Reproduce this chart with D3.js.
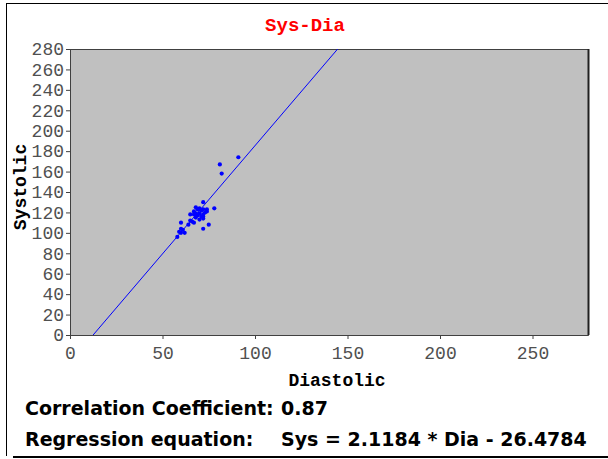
<!DOCTYPE html>
<html><head><meta charset="utf-8">
<script src="https://cdn.jsdelivr.net/npm/d3@7"></script>
<style>html,body{margin:0;padding:0;background:#fff;}</style>
</head><body>
<svg id="c" width="608" height="459"></svg>
<script>
const diastolic = [91,81,82,72,78,69,74,65,67,72,60,65,66,67,64,75,72,60,61,59,62,60,58,
  68,70,72,73,67,71,68,70,72,69,71,68,72,70,74];
const systolic  = [174,167,158,130,124,123,121,118,118,116,110,112,111,110,108,108,104,104,103,101,100,100,96,
  125,124,123,120,121,122,119,119,118,117,116,115,114,113,123];
const xTicks = [0,50,100,150,200,250];
const yTicks = [0,20,40,60,80,100,120,140,160,180,200,220,240,260,280];
const slope = 2.1184, intercept = -26.4784;
const titleText = "Sys-Dia", xTitle = "Diastolic", yTitle = "Systolic";
const corrLabel = "Correlation Coefficient:", corrValue = "0.87";
const regLabel = "Regression equation:", regValue = "Sys = 2.1184 * Dia - 26.4784";

const svg = d3.select("#c");
const L = 70, R = 588, T = 49, B = 335;
const x = d3.scaleLinear().domain([0,280]).range([L,R]);
const y = d3.scaleLinear().domain([0,280]).range([B,T]);

// outer frame
svg.append("line").attr("x1",6.5).attr("x2",6.5).attr("y1",3).attr("y2",456).attr("stroke","#000").attr("stroke-width",1);
svg.append("line").attr("x1",6).attr("x2",608).attr("y1",3.5).attr("y2",3.5).attr("stroke","#000").attr("stroke-width",1);
svg.append("line").attr("x1",13).attr("x2",608).attr("y1",457).attr("y2",457).attr("stroke","#000").attr("stroke-width",2);

// plot area
svg.append("rect").attr("x",L).attr("y",T).attr("width",R-L).attr("height",B-T).attr("fill","#c0c0c0");
svg.append("line").attr("x1",L).attr("x2",R).attr("y1",T+0.5).attr("y2",T+0.5).attr("stroke","#404040");
svg.append("line").attr("x1",R+0.5).attr("x2",R+0.5).attr("y1",T).attr("y2",B).attr("stroke","#202020").attr("stroke-width",2);
svg.append("line").attr("x1",L).attr("x2",R+1).attr("y1",B+0.5).attr("y2",B+0.5).attr("stroke","#808080");

// clip
svg.append("clipPath").attr("id","pc").append("rect").attr("x",L).attr("y",T).attr("width",R-L).attr("height",B-T);

// regression line
const xs = [-intercept/slope, (280-intercept)/slope];
svg.append("line").attr("clip-path","url(#pc)")
  .attr("x1",x(xs[0])).attr("y1",y(slope*xs[0]+intercept))
  .attr("x2",x(xs[1])).attr("y2",y(slope*xs[1]+intercept))
  .attr("stroke","#0000ff").attr("stroke-width",1);

// points
svg.append("g").selectAll("circle").data(diastolic.map((d,i)=>[d,systolic[i]])).join("circle")
  .attr("cx",d=>x(d[0])).attr("cy",d=>y(d[1])).attr("r",2.1).attr("fill","#0000ff");

// axes
const tickFont = "'Liberation Mono', monospace";
const ya = svg.append("g").attr("transform",`translate(${L},0)`)
  .call(d3.axisLeft(y).tickValues(yTicks).tickSize(4).tickPadding(2).tickSizeOuter(0));
const xa = svg.append("g").attr("transform",`translate(0,${B})`)
  .call(d3.axisBottom(x).tickValues(xTicks).tickSize(4).tickPadding(7).tickSizeOuter(0));
[ya,xa].forEach(a=>{
  a.select(".domain").attr("stroke","#404040");
  a.selectAll(".tick line").attr("stroke","#404040");
  a.selectAll("text").attr("font-family",tickFont).attr("font-size",18).attr("fill","#505050");
});

// titles
svg.append("text").attr("x",305).attr("y",31).attr("text-anchor","middle")
  .attr("font-family","'Liberation Mono', monospace").attr("font-weight","bold").attr("font-size",19)
  .attr("fill","#ff0000").text(titleText);
svg.append("text").attr("x",337).attr("y",386).attr("text-anchor","middle")
  .attr("font-family","'Liberation Mono', monospace").attr("font-weight","bold").attr("font-size",18)
  .attr("fill","#000").text(xTitle);
svg.append("text").attr("transform","translate(26,187) rotate(-90)").attr("text-anchor","middle")
  .attr("font-family","'Liberation Mono', monospace").attr("font-weight","bold").attr("font-size",18)
  .attr("fill","#000").text(yTitle);

// bottom text
const bf = "'DejaVu Sans', Verdana, sans-serif";
[[corrLabel,corrValue,415],[regLabel,regValue,446]].forEach(([a,b,yy])=>{
  svg.append("text").attr("x",25).attr("y",yy).attr("font-family",bf).attr("font-weight","bold")
    .attr("font-size",19).attr("fill","#000").text(a);
  svg.append("text").attr("x",281).attr("y",yy).attr("font-family",bf).attr("font-weight","bold")
    .attr("font-size",19).attr("fill","#000").text(b);
});
</script>
</body></html>
